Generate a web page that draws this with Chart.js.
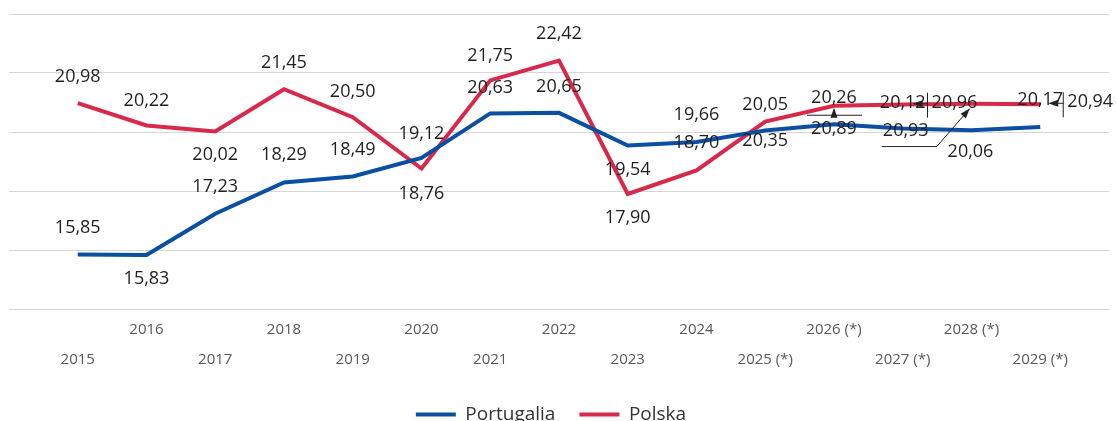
<!DOCTYPE html>
<html>
<head>
<meta charset="utf-8">
<script src="https://cdn.jsdelivr.net/npm/chart.js@4.4.1/dist/chart.umd.min.js"></script>
<style>
  html, body { margin: 0; padding: 0; background: #fff; overflow: hidden; }
  #wrap { width: 1116px; height: 434px; position: relative; }
</style>
</head>
<body>
<div id="wrap"><canvas id="chart"></canvas></div>
<script>
const years = ['2015', '2016', '2017', '2018', '2019', '2020', '2021', '2022', '2023', '2024',
  '2025 (*)', '2026 (*)', '2027 (*)', '2028 (*)', '2029 (*)'];
const portugalia = [15.85, 15.83, 17.23, 18.29, 18.49, 19.12, 20.63, 20.65, 19.54, 19.66, 20.05, 20.26, 20.12, 20.06, 20.17];
const polska = [20.98, 20.22, 20.02, 21.45, 20.50, 18.76, 21.75, 22.42, 17.90, 18.70, 20.35, 20.89, 20.93, 20.96, 20.94];

// where each value label sits relative to its point (px)
const ptLabelOffsets = [[0,-27],[0,24],[0,-27],[0,-28],[0,-27],[0,-24],[0,-26],[0,-26],[0,24],[0,-27],[0,-26],[0,-26],[0,-26],[-1,22],[0,-27]];
const plLabelOffsets = [[0,-26],[0,-25],[0,23],[0,-26],[0,-25],[0,25],[0,-25],[0,-27],[0,24],[0,-27],[0,19],[0,23],[3,26],[-17,-1],[50,-2]];
const plLeaders = { 11: 'up', 12: 'poly', 13: 'left', 14: 'left' };

const BLUE = '#0b4fa3';
const RED = '#d9294b';

const fmt = v => v.toFixed(2).replace('.', ',');

function arrowHead(ctx, x1, y1, x2, y2) {
  const a = Math.atan2(y2 - y1, x2 - x1);
  const len = 10, w = 3.5;
  ctx.beginPath();
  ctx.moveTo(x2, y2);
  ctx.lineTo(x2 - len * Math.cos(a) + w * Math.sin(a), y2 - len * Math.sin(a) - w * Math.cos(a));
  ctx.lineTo(x2 - len * Math.cos(a) - w * Math.sin(a), y2 - len * Math.sin(a) + w * Math.cos(a));
  ctx.closePath();
  ctx.fill();
}

function drawLeader(ctx, type, x, y) {
  ctx.save();
  ctx.strokeStyle = '#222';
  ctx.fillStyle = '#222';
  ctx.lineWidth = 1;
  ctx.beginPath();
  if (type === 'up') {
    ctx.moveTo(x - 27, y - 13.5); ctx.lineTo(x + 28, y - 13.5);
    ctx.stroke();
    arrowHead(ctx, x, y - 13.5, x, y - 21);
  } else if (type === 'poly') {
    ctx.moveTo(x - 24, y + 16); ctx.lineTo(x + 31, y + 16); ctx.lineTo(x + 64, y - 22);
    ctx.stroke();
    arrowHead(ctx, x + 31, y + 16, x + 64, y - 22);
  } else if (type === 'left') {
    ctx.moveTo(x - 27, y - 10); ctx.lineTo(x - 27, y + 15);
    ctx.moveTo(x - 27, y + 1); ctx.lineTo(x - 36, y + 1);
    ctx.stroke();
    arrowHead(ctx, x - 27, y + 1, x - 42, y + 1);
  }
  ctx.restore();
}

const valueLabels = {
  id: 'valueLabels',
  afterDatasetsDraw(chart) {
    const ctx = chart.ctx;
    ctx.save();
    ctx.font = '18px "Open Sans"';
    ctx.fillStyle = '#1f1f1f';
    ctx.textAlign = 'center';
    ctx.textBaseline = 'middle';
    chart.data.datasets.forEach((ds, di) => {
      chart.getDatasetMeta(di).data.forEach((pt, i) => {
        const [dx, dy] = ds.labelOffsets[i];
        const x = pt.x + dx, y = pt.y + dy;
        ctx.fillText(fmt(ds.data[i].y), x, y);
        if (ds.leaders && ds.leaders[i]) drawLeader(ctx, ds.leaders[i], x, y);
      });
    });
    ctx.restore();
  }
};

// the legend in the original sits a little left of centre
const legendShift = {
  id: 'legendShift',
  afterLayout(chart) {
    if (chart.legend) {
      chart.legend.left -= 8;
      chart.legend.right -= 8;
    }
  }
};

const toPoints = arr => arr.map((v, i) => ({ x: i, y: v }));

new Chart(document.getElementById('chart'), {
  type: 'line',
  data: {
    datasets: [
      { label: 'Portugalia', data: toPoints(portugalia), borderColor: BLUE, backgroundColor: BLUE,
        borderWidth: 4, pointRadius: 0, tension: 0, labelOffsets: ptLabelOffsets },
      { label: 'Polska', data: toPoints(polska), borderColor: RED, backgroundColor: RED,
        borderWidth: 4, pointRadius: 0, tension: 0, labelOffsets: plLabelOffsets, leaders: plLeaders }
    ]
  },
  options: {
    responsive: true,
    maintainAspectRatio: false,
    animation: false,
    layout: { padding: { left: 9, right: 7, top: 14, bottom: 0 } },
    plugins: {
      tooltip: { enabled: false },
      legend: {
        position: 'bottom',
        labels: {
          boxWidth: 40,
          boxHeight: 4,
          padding: 24,
          color: '#333',
          font: { family: '"Open Sans"', size: 19 },
          generateLabels(chart) {
            return Chart.defaults.plugins.legend.labels.generateLabels(chart).map(l => {
              l.lineWidth = 0;
              l.fillStyle = l.strokeStyle;
              return l;
            });
          }
        }
      }
    },
    scales: {
      x: {
        type: 'linear',
        min: -1,
        max: 15,
        grid: { display: false, drawTicks: false },
        border: { display: false },
        ticks: {
          stepSize: 1,
          autoSkip: false,
          maxRotation: 0,
          padding: 6,
          color: '#595959',
          font: { family: '"Open Sans"', size: 15, lineHeight: 30 / 15 },
          callback(value) {
            const lbl = years[value];
            if (!lbl) return '';
            return value % 2 === 0 ? ['', lbl] : [lbl, ''];
          }
        }
      },
      y: {
        min: 14,
        max: 24,
        grid: { color: '#d6d6d6', lineWidth: 1, drawTicks: false },
        border: { display: false },
        ticks: { display: false, stepSize: 2 }
      }
    }
  },
  plugins: [valueLabels, legendShift]
});
</script>
</body>
</html>
